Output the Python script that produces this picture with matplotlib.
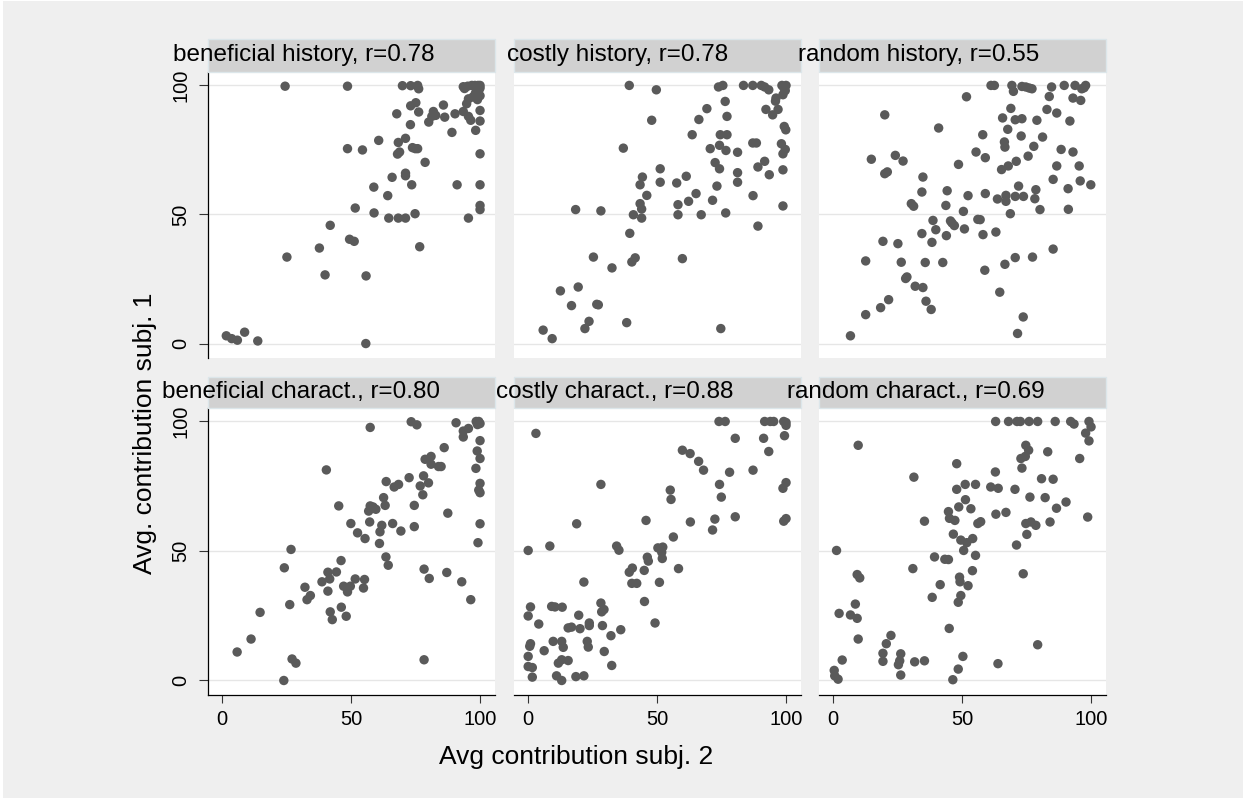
import matplotlib
matplotlib.use("Agg")
import matplotlib.pyplot as plt
from matplotlib.patches import Rectangle

plt.rcParams['font.family'] = ['Liberation Sans', 'DejaVu Sans']

titles = ["beneficial history, r=0.78", "costly history, r=0.78", "random history, r=0.55",
          "beneficial charact., r=0.80", "costly charact., r=0.88", "random charact., r=0.69"]
xlabel_text = "Avg contribution subj. 2"
ylabel_text = "Avg. contribution subj. 1"
tick_values = [0, 50, 100]

ben_hist_x = [1.6, 3.7, 5.9, 8.7, 13.8, 24.4, 25.1, 37.7, 39.9, 41.9, 48.6, 48.6, 49.4, 51.2, 51.6, 54.4,
              55.7, 55.8, 58.8, 58.9, 60.7, 64.2, 64.6, 65.9, 67.7, 68.3, 68.0, 68.8, 68.3, 69.9, 71.1, 71.1,
              71.1, 71.1, 73.1, 73.0, 73.1, 75.1, 73.5, 73.8, 74.9, 75.8, 74.8, 76.2, 75.8, 76.2, 76.6, 78.7,
              80.1, 81.3, 81.9, 82.8, 85.8, 86.3, 89.1, 90.3, 91.1, 93.5, 94.0, 95.5, 94.8, 95.5, 95.5, 96.4,
              98.3, 100, 100, 100, 100, 100, 100, 93.5, 95.2, 96.8, 98.0, 99.2, 100, 99.5, 98.2, 100, 97.2,
              99.0, 100]
ben_hist_y = [3.0, 1.9, 1.3, 4.4, 1.0, 99.7, 33.5, 37.0, 26.6, 45.8, 99.7, 75.5, 40.4, 39.6, 52.5, 75.0,
              0.0, 26.2, 60.6, 50.6, 78.7, 57.3, 48.6, 64.4, 89.0, 77.9, 73.4, 74.2, 48.6, 99.9, 79.5, 66.0,
              65.0, 48.6, 99.9, 84.8, 92.1, 93.3, 61.5, 75.9, 75.5, 75.5, 50.3, 89.7, 100, 98.7, 37.5, 70.2,
              85.8, 88.0, 89.9, 88.4, 92.4, 87.7, 81.8, 89.0, 61.5, 89.9, 98.8, 48.6, 92.9, 94.8, 88.0, 86.5,
              82.6, 90.3, 86.2, 73.5, 61.5, 53.5, 51.9, 99.5, 99.7, 100, 100, 100, 100, 98.0, 97.0, 96.0, 95.5,
              94.5, 99.0]

cost_hist_x = [5.8, 9.3, 12.5, 16.8, 19.4, 18.4, 22.0, 23.6, 25.3, 26.6, 27.2, 28.2, 32.5, 36.9, 38.2, 39.2,
               39.4, 40.2, 41.5, 40.8, 43.4, 44.0, 44.0, 43.4, 44.3, 46.0, 47.9, 49.7, 51.2, 51.2, 57.6, 58.1,
               58.1, 59.8, 61.3, 62.2, 63.6, 65.1, 66.2, 67.1, 69.3, 70.6, 71.5, 72.5, 73.2, 73.8, 74.2, 74.2,
               74.7, 75.5, 74.5, 77.1, 76.4, 76.7, 76.6, 77.1, 81.2, 81.2, 81.2, 83.5, 87.1, 87.1, 88.5, 87.2,
               89.1, 89.1, 90.4, 91.7, 91.7, 92.2, 93.3, 93.5, 94.8, 95.9, 96.1, 96.9, 98.4, 98.8, 99.7, 99.3,
               99.9, 98.2, 99.7, 98.8, 98.8, 98.8, 100, 99.2]
cost_hist_y = [5.2, 1.9, 20.4, 14.7, 21.9, 51.9, 5.8, 8.6, 33.5, 15.2, 15.0, 51.4, 29.3, 75.7, 8.1, 100,
               42.7, 31.6, 33.2, 49.9, 54.2, 52.1, 48.6, 61.5, 64.5, 57.4, 86.5, 98.3, 67.7, 62.5, 62.2, 53.8,
               49.9, 32.9, 64.8, 55.1, 80.9, 58.1, 86.8, 49.9, 91.0, 75.5, 55.5, 70.1, 61.0, 99.4, 67.7, 76.8,
               5.8, 100, 80.9, 80.9, 93.8, 74.8, 50.6, 88.0, 74.1, 66.2, 62.5, 100, 100, 77.7, 77.7, 57.3,
               45.5, 68.4, 100, 99.4, 70.6, 90.7, 98.3, 65.4, 88.6, 93.9, 95.1, 90.7, 100, 96.4, 98.0, 84.1,
               82.8, 77.4, 75.2, 73.5, 67.3, 53.3, 100, 99.0]

rand_hist_x = [6.7, 12.6, 12.6, 14.8, 18.4, 19.3, 20.0, 20.0, 21.0, 21.5, 24.1, 25.1, 26.4, 27.1, 28.1, 28.6,
               30.3, 31.2, 31.8, 34.8, 34.4, 34.4, 34.8, 35.7, 36.0, 38.0, 38.3, 38.7, 39.8, 40.9, 42.5, 43.7,
               43.9, 44.2, 45.5, 46.1, 47.0, 48.6, 50.5, 50.9, 51.7, 52.3, 55.4, 56.1, 57.0, 58.0, 58.1, 58.8,
               59.0, 59.0, 61.2, 62.5, 63.1, 63.7, 64.6, 65.3, 65.7, 66.4, 66.6, 66.6, 67.0, 67.0, 67.7, 67.9,
               68.7, 68.9, 69.3, 69.9, 70.6, 70.6, 70.6, 71.0, 71.5, 71.9, 72.9, 73.2, 73.2, 73.7, 73.8, 74.7,
               75.6, 76.0, 77.1, 77.3, 77.8, 78.2, 78.6, 79.0, 80.2, 81.2, 82.9, 83.8, 84.7, 85.3, 85.3, 86.7,
               86.7, 88.4, 89.6, 91.1, 91.2, 91.8, 93.0, 93.0, 93.8, 95.4, 95.8, 96.0, 96.4, 97.3, 97.9, 99.9]
rand_hist_y = [3.0, 32.0, 11.2, 71.4, 13.9, 39.6, 88.6, 65.8, 66.5, 17.0, 72.9, 38.7, 31.5, 70.7, 25.2, 25.8,
               54.2, 53.2, 22.2, 21.7, 58.7, 42.6, 64.5, 31.4, 16.4, 13.2, 39.2, 47.7, 44.1, 83.5, 31.4, 53.5,
               41.8, 59.2, 47.5, 46.7, 45.7, 69.4, 51.2, 44.4, 95.6, 57.3, 74.2, 48.1, 48.0, 80.9, 42.2, 28.4,
               72.0, 58.1, 100, 100, 43.2, 56.0, 19.9, 67.4, 87.4, 78.1, 76.1, 30.7, 57.4, 55.1, 83.0, 68.8,
               50.3, 91.1, 100, 97.7, 86.7, 57.0, 33.3, 70.6, 3.9, 61.0, 80.4, 87.1, 99.6, 10.3, 57.0, 99.4,
               72.6, 99.0, 98.7, 33.5, 76.4, 56.1, 59.6, 86.5, 51.9, 80.0, 90.7, 95.7, 99.4, 63.6, 36.6, 89.3,
               68.8, 75.2, 100, 60.0, 52.0, 86.2, 74.2, 95.1, 100, 68.8, 63.0, 94.2, 98.7, 99.1, 100, 61.5]

ben_char_x = [5.8, 11.2, 14.7, 23.9, 24.1, 26.7, 26.2, 27.1, 28.6, 32.1, 32.9, 34.2, 38.7, 40.4, 41.0, 41.0,
              41.7, 41.9, 42.7, 44.3, 45.2, 46.1, 46.2, 47.1, 48.1, 48.6, 49.7, 49.9, 51.6, 52.5, 54.8, 55.2,
              55.4, 56.8, 57.2, 57.4, 57.4, 58.5, 59.6, 61.0, 61.2, 61.9, 62.6, 63.2, 63.5, 63.6, 64.4, 66.1,
              66.7, 68.4, 69.3, 72.5, 73.3, 74.5, 74.5, 75.5, 76.8, 77.8, 78.1, 78.3, 78.3, 78.7, 80.0, 80.3,
              81.0, 81.0, 83.9, 84.9, 86.1, 87.1, 87.5, 90.7, 92.9, 93.5, 93.5, 95.5, 96.4, 98.4, 98.9, 99.2,
              99.5, 100, 100, 100, 100, 100, 98.5, 99.5, 100, 99.0]
ben_char_y = [11.0, 16.0, 26.3, 0.0, 43.5, 50.6, 29.3, 8.3, 6.7, 36.0, 31.2, 32.8, 38.1, 81.3, 41.8, 34.5,
              39.2, 26.5, 23.5, 41.9, 67.4, 46.3, 28.3, 36.4, 24.8, 34.2, 36.4, 60.6, 39.2, 57.0, 35.7, 39.0,
              54.8, 65.4, 61.2, 97.7, 67.4, 67.0, 66.1, 52.9, 57.4, 59.9, 70.6, 67.6, 47.7, 76.8, 44.5, 60.6,
              74.7, 75.7, 57.7, 78.3, 99.9, 67.6, 59.4, 98.7, 75.1, 71.7, 79.0, 8.0, 43.0, 85.4, 76.3, 39.4,
              86.5, 83.5, 82.6, 82.6, 89.9, 41.7, 64.6, 99.5, 38.1, 96.3, 94.0, 97.3, 31.2, 81.9, 88.6, 53.2,
              73.5, 76.1, 72.5, 85.7, 92.6, 60.5, 100, 100, 99.2, 98.8]

cost_char_x = [0.0, 0.0, 0.0, 0.0, 0.9, 0.9, 0.6, 1.6, 1.6, 3.0, 4.1, 6.2, 8.4, 9.1, 10.4, 9.7, 11.0, 11.7,
               13.0, 13.2, 13.0, 13.6, 13.0, 15.5, 15.5, 16.8, 18.5, 18.8, 19.6, 20.1, 21.6, 21.6, 22.9, 23.3,
               23.7, 23.7, 28.2, 28.2, 28.5, 29.4, 28.8, 29.5, 32.1, 32.4, 35.9, 34.3, 35.2, 39.2, 40.4, 40.2,
               42.1, 45.0, 45.1, 45.7, 46.2, 46.6, 49.2, 50.9, 50.3, 51.8, 52.2, 52.0, 56.3, 55.1, 55.4, 58.3,
               59.8, 62.8, 62.9, 66.1, 68.0, 71.5, 72.4, 74.0, 74.2, 74.9, 76.4, 78.1, 80.3, 80.3, 87.2, 91.3,
               91.7, 93.9, 93.3, 95.2, 99.1, 100, 99.4, 100, 98.8, 100, 99.1, 100]
cost_char_y = [50.2, 24.9, 9.3, 5.4, 28.4, 14.2, 13.2, 5.0, 1.3, 95.4, 21.8, 11.5, 51.9, 28.6, 28.4, 15.1,
               1.8, 6.7, 0.0, 28.3, 15.1, 12.8, 8.0, 7.7, 20.3, 20.6, 1.5, 60.5, 25.2, 20.0, 38.0, 1.8, 15.1,
               12.9, 21.2, 22.2, 75.7, 29.9, 26.5, 27.4, 21.2, 11.2, 17.3, 5.8, 19.6, 51.9, 50.3, 41.8, 43.4,
               37.5, 37.5, 42.5, 30.5, 61.8, 47.6, 46.1, 22.2, 37.9, 51.2, 49.5, 51.5, 47.1, 55.4, 73.5, 69.9,
               43.2, 88.9, 87.6, 61.2, 84.6, 81.2, 58.1, 62.3, 100, 75.7, 70.8, 100, 80.4, 93.5, 63.2, 81.2,
               93.5, 100, 100, 88.4, 100, 100, 99.6, 94.5, 76.4, 74.2, 62.5, 61.5, 98.5]

rand_char_x = [0.4, 0.6, 1.9, 1.3, 2.3, 3.5, 6.7, 8.6, 9.3, 9.7, 9.3, 10.3, 9.7, 19.3, 19.3, 20.6, 22.4,
               25.3, 25.8, 26.2, 26.2, 31.6, 30.9, 31.3, 35.4, 35.4, 38.4, 39.3, 41.5, 43.3, 44.7, 44.7, 45.1,
               45.0, 46.4, 46.6, 47.2, 47.9, 47.9, 48.5, 48.5, 49.5, 49.0, 49.2, 48.7, 49.5, 50.3, 50.6, 51.2,
               51.3, 51.8, 52.3, 53.4, 54.1, 54.0, 55.2, 55.2, 56.1, 57.2, 61.1, 63.0, 62.9, 63.1, 63.9, 64.0,
               67.0, 68.0, 70.5, 71.1, 71.3, 72.6, 73.2, 72.8, 73.7, 74.5, 74.7, 75.8, 75.1, 74.7, 76.0, 76.3,
               76.7, 78.6, 79.3, 79.3, 80.8, 82.2, 83.2, 84.1, 85.3, 86.1, 86.6, 90.3, 92.1, 93.4, 95.6, 97.9,
               98.7, 99.2, 99.2, 100]
rand_char_y = [3.9, 1.8, 0.5, 50.2, 25.9, 7.9, 25.3, 29.5, 24.0, 16.0, 40.9, 39.6, 90.8, 10.5, 7.4, 14.2,
               17.4, 6.1, 7.6, 10.3, 2.1, 7.2, 43.2, 78.5, 61.5, 7.6, 32.1, 47.7, 37.0, 46.8, 46.7, 65.2, 62.6,
               20.1, 0.3, 56.5, 61.8, 83.7, 73.8, 4.4, 30.2, 32.8, 39.9, 38.1, 67.0, 54.2, 9.3, 50.2, 75.7,
               69.8, 53.2, 36.6, 66.3, 54.8, 42.4, 48.3, 75.7, 60.6, 61.3, 74.7, 100, 80.5, 64.2, 6.5, 74.2,
               64.9, 100, 73.8, 52.3, 100, 100, 82.0, 85.7, 41.2, 86.5, 90.8, 88.9, 56.4, 60.6, 100, 70.8,
               61.2, 59.9, 13.8, 100, 77.9, 70.6, 88.3, 61.2, 77.7, 100, 66.5, 68.9, 100, 99.0, 85.7, 95.5,
               63.1, 100, 92.5, 97.9]

panel_x = [ben_hist_x, cost_hist_x, rand_hist_x, ben_char_x, cost_char_x, rand_char_x]
panel_y = [ben_hist_y, cost_hist_y, rand_hist_y, ben_char_y, cost_char_y, rand_char_y]

W, H = 1252, 798
fig = plt.figure(figsize=(W / 100, H / 100), dpi=100, facecolor='white')
fig.patches.append(Rectangle((3 / W, 0), 1240 / W, 797 / H, transform=fig.transFigure,
                             facecolor='#efefef', edgecolor='none', zorder=-10))

col_left = [208, 514, 819]
col_w = 287
row_top = [72, 408]
row_h = [286, 287]
bar_h = [33, 31]
marker_color = '#5a5a5a'

title_texts = []
for i in range(6):
    r, c = divmod(i, 3)
    left = col_left[c] / W
    bottom = 1 - (row_top[r] + row_h[r]) / H
    ax = fig.add_axes([left, bottom, col_w / W, row_h[r] / H])
    ax.set_facecolor('white')
    ax.set_xlim(-5.5, 105.8)
    ax.set_ylim(-5.6, 105.2)
    for y in tick_values:
        ax.axhline(y, color='#e6e6e6', lw=1.0, zorder=1)
    ax.scatter(panel_x[i], panel_y[i], s=46, color=marker_color, edgecolors='none', zorder=3, clip_on=False)
    for s in ['top', 'right']:
        ax.spines[s].set_visible(False)
    ax.spines['left'].set_visible(c == 0)
    ax.spines['bottom'].set_visible(r == 1)
    ax.spines['left'].set_color('black')
    ax.spines['bottom'].set_color('black')
    ax.spines['left'].set_linewidth(0.9)
    ax.spines['bottom'].set_linewidth(0.9)
    ax.set_yticks(tick_values)
    ax.set_xticks(tick_values)
    if c == 0:
        ax.tick_params(axis='y', length=6.5, width=0.8, color='#333333', labelsize=14.5, pad=6)
        ax.set_yticklabels([str(v) for v in tick_values], rotation=90, va='center')
    else:
        ax.tick_params(axis='y', left=False, labelleft=False)
    if r == 1:
        ax.tick_params(axis='x', length=6, width=0.8, color='#333333', labelsize=14.5, pad=4.5)
    else:
        ax.tick_params(axis='x', bottom=False, labelbottom=False)
    bh = bar_h[r] / row_h[r]
    ax.add_patch(Rectangle((0, 1), 1, bh, transform=ax.transAxes, facecolor='#d1d1d1',
                           edgecolor='#dce6ea', lw=1.0, clip_on=False, zorder=5))
    t = ax.text(0.5, 1 + bh / 2, titles[i], transform=ax.transAxes, ha='center', va='center',
                fontsize=17.5, color='black', zorder=6, clip_on=False)
    title_texts.append(t)

fig.text(145 / W, 1 - 433 / H, ylabel_text, rotation=90, ha='center', va='center', fontsize=19)
fig.text(576 / W, 1 - 757 / H, xlabel_text, ha='center', va='center', fontsize=19)

# Stata-like off-centre placement of strip titles
fig.canvas.draw()
renderer = fig.canvas.get_renderer()
for t in title_texts:
    wpx = t.get_window_extent(renderer).width
    x, y = t.get_position()
    t.set_position((0.5 - 0.182 * wpx / col_w, y))

fig.savefig('out.png', dpi=100, facecolor='white')
